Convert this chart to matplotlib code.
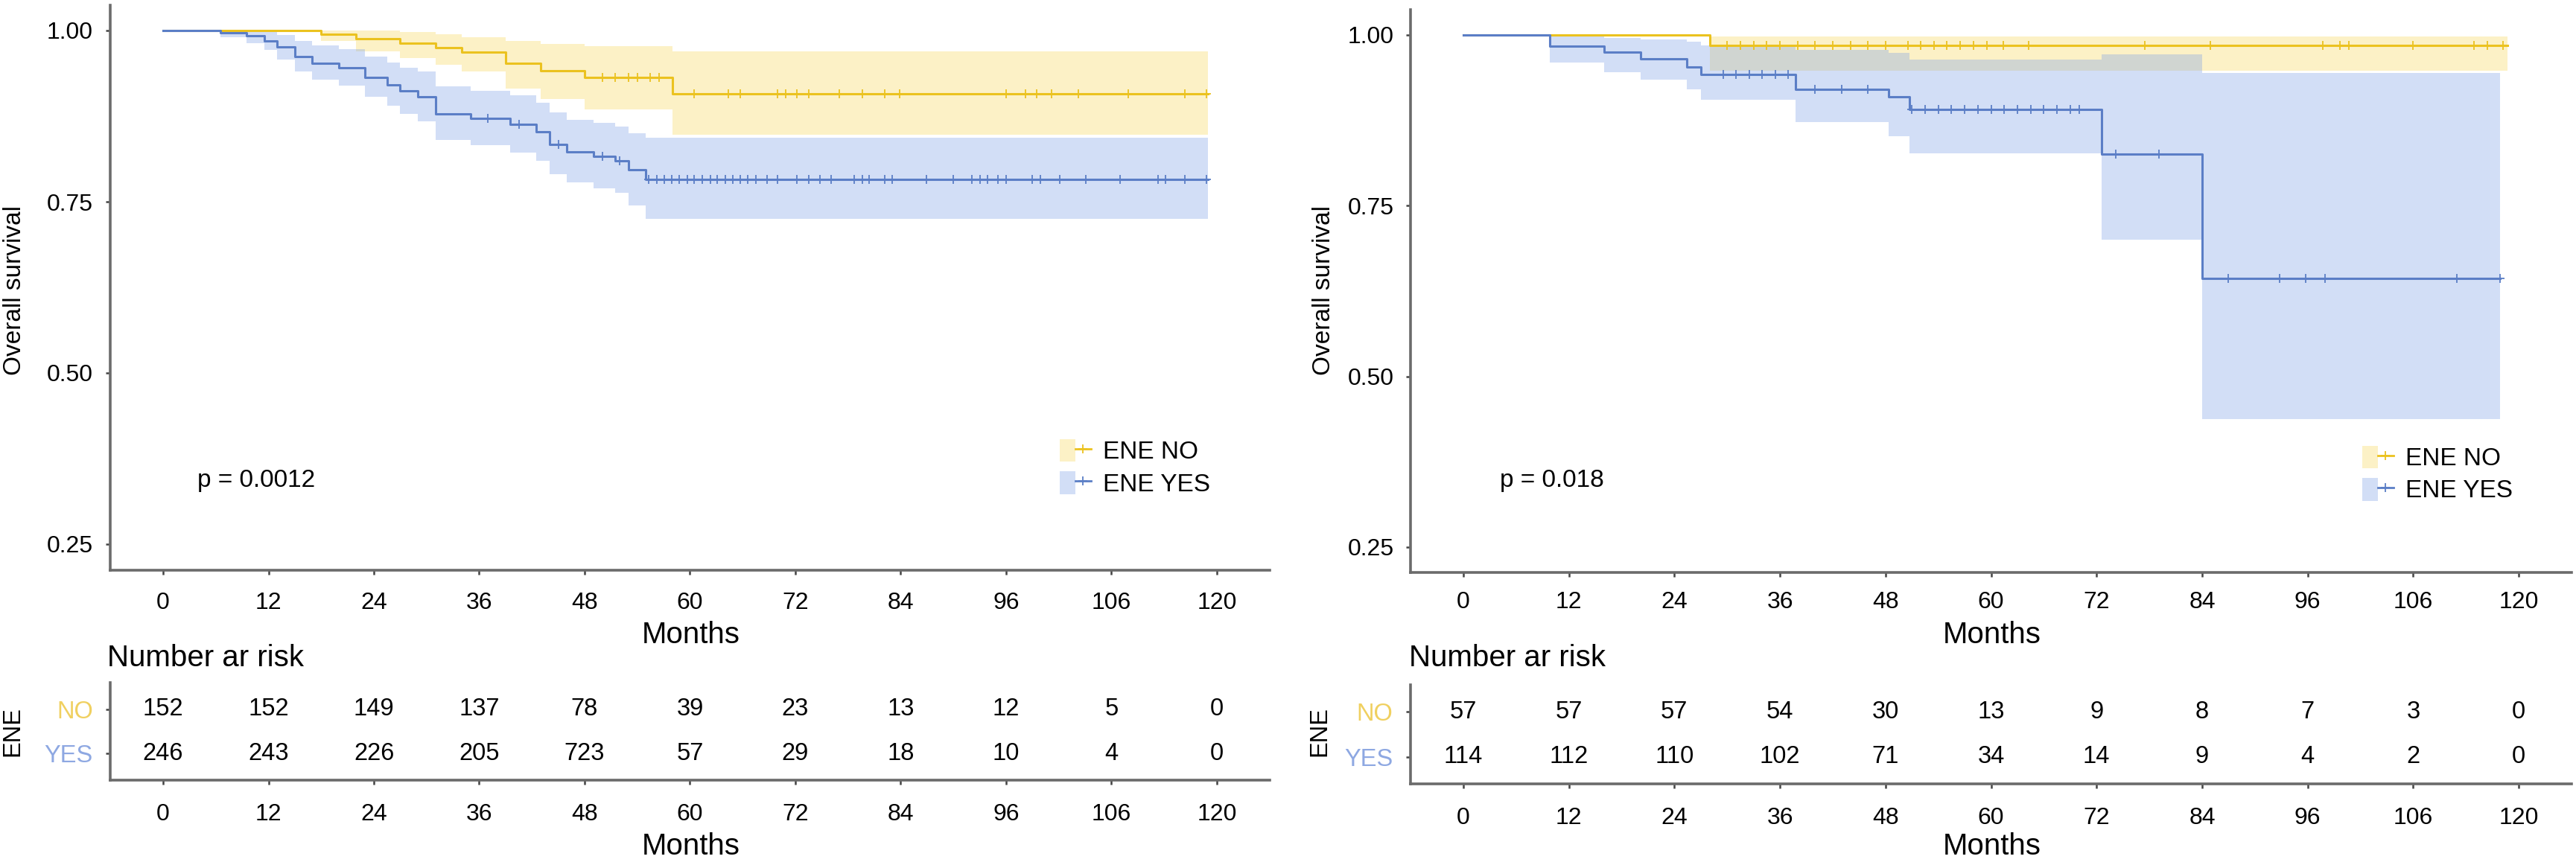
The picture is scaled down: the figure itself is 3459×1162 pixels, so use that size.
import numpy as np
import matplotlib
matplotlib.use("Agg")
import matplotlib.pyplot as plt
from matplotlib.patches import Patch
from matplotlib.lines import Line2D
from matplotlib.legend_handler import HandlerTuple

plt.rcParams['font.family'] = ['Liberation Sans', 'DejaVu Sans']

# ---- data ----
x_ticks = [0, 12, 24, 36, 48, 60, 72, 84, 96, 108, 120]
x_tick_labels = ['0', '12', '24', '36', '48', '60', '72', '84', '96', '106', '120']
y_ticks = [0.25, 0.50, 0.75, 1.00]
groups = ['NO', 'YES']
legend_labels = ['ENE NO', 'ENE YES']

# left panel
left_no_time = [0, 18, 22, 27, 31, 34, 39, 43, 48, 58]
left_no_surv = [1.0, 0.995, 0.988, 0.982, 0.975, 0.968, 0.952, 0.941, 0.932, 0.908]
left_no_upper = [1.0, 1.0, 1.0, 0.998, 0.995, 0.99, 0.985, 0.98, 0.977, 0.97]
left_no_lower = [1.0, 0.985, 0.97, 0.96, 0.95, 0.94, 0.915, 0.90, 0.885, 0.848]
left_no_end = 119
left_no_censor = [50, 51.5, 53, 54, 55.5, 56.5, 60.5, 64.4, 65.7, 70.0, 70.9, 72.2, 73.5,
                  77.0, 79.6, 82.2, 83.9, 96.0, 98.2, 99.5, 101.2, 104.2, 109.9, 116.4, 118.8]

left_yes_time = [0, 6.5, 9.5, 11.5, 13, 15, 17, 20, 23, 25.5, 27, 29, 31, 35, 39.5, 42.5,
                 44, 46, 49, 51.5, 53, 55]
left_yes_surv = [1.0, 0.997, 0.992, 0.985, 0.976, 0.962, 0.952, 0.946, 0.932, 0.921, 0.912,
                 0.903, 0.878, 0.872, 0.863, 0.852, 0.834, 0.823, 0.816, 0.81, 0.797, 0.783]
left_yes_upper = [1.0, 1.0, 1.0, 0.998, 0.993, 0.985, 0.978, 0.973, 0.962, 0.953, 0.946,
                  0.94, 0.918, 0.912, 0.905, 0.895, 0.88, 0.87, 0.865, 0.86, 0.85, 0.843]
left_yes_lower = [1.0, 0.99, 0.982, 0.972, 0.958, 0.94, 0.928, 0.92, 0.903, 0.89, 0.878,
                  0.867, 0.84, 0.833, 0.822, 0.81, 0.79, 0.778, 0.77, 0.763, 0.745, 0.725]
left_yes_end = 119
left_yes_censor = [37, 40.5, 45, 50, 52, 55.3, 56.2, 57.1, 57.9, 58.8, 59.7, 60.5, 61.4, 62.3,
                   63.1, 64.0, 64.9, 65.7, 66.6, 67.5, 68.8, 70.0, 72.2, 73.5, 74.8, 76.1,
                   78.7, 79.6, 80.4, 82.2, 83.0, 86.9, 90.0, 92.1, 93.0, 93.9, 95.1, 96.0,
                   99.0, 99.9, 102.1, 105.1, 109.0, 113.3, 114.2, 116.4, 118.8]
left_risk_no = [152, 152, 149, 137, 78, 39, 23, 13, 12, 5, 0]
left_risk_yes = [246, 243, 226, 205, 723, 57, 29, 18, 10, 4, 0]
left_p = 'p = 0.0012'

# right panel
right_no_time = [0, 28]
right_no_surv = [1.0, 0.985]
right_no_upper = [1.0, 0.998]
right_no_lower = [1.0, 0.948]
right_no_end = 118.7
right_no_censor = [30, 31.5, 33, 34.5, 36, 38, 40, 42, 44, 46, 48, 50.6, 52, 53.5, 55, 56.5,
                   58, 59.5, 61.4, 64.3, 77.5, 84.9, 97.7, 99.7, 100.7, 108, 114.9, 116.4, 118.2]

right_yes_time = [0, 9.8, 16, 20.2, 25.4, 27, 37.8, 48.4, 50.7, 72.6, 84]
right_yes_surv = [1.0, 0.984, 0.975, 0.965, 0.953, 0.942, 0.92, 0.909, 0.891, 0.826, 0.644]
right_yes_upper = [1.0, 0.998, 0.996, 0.993, 0.99, 0.985, 0.978, 0.974, 0.964, 0.972, 0.944]
right_yes_lower = [1.0, 0.96, 0.945, 0.935, 0.92, 0.905, 0.873, 0.852, 0.827, 0.70, 0.438]
right_yes_end = 117.9
right_yes_censor = [29.6, 31, 32.5, 34, 35.5, 36.9, 40, 43, 46, 51, 52.5, 54, 55.5, 57, 58.5,
                    60, 61.5, 63, 64.5, 66, 67.5, 69, 70, 74.2, 79.1, 87, 92.8, 95.8, 98,
                    113, 117.9]
right_risk_no = [57, 57, 57, 54, 30, 13, 9, 8, 7, 3, 0]
right_risk_yes = [114, 112, 110, 102, 71, 34, 14, 9, 4, 2, 0]
right_p = 'p = 0.018'

# ---- style ----
NO_LINE = '#EBC21F'
NO_FILL = '#F7D95C'
YES_LINE = '#5B7EC6'
YES_FILL = '#7FA3E6'
NO_LABEL = '#F0D060'
YES_LABEL = '#8EA8E2'
AXIS_COL = '#6b6b6b'
TICK_FS = 23
BIG_FS = 29

W, H = 3459, 1162
fig = plt.figure(figsize=(W / 100, H / 100), dpi=100)


def box(x0, y0, x1, y1):
    return [x0 / W, 1 - y1 / H, (x1 - x0) / W, (y1 - y0) / H]


def ftext(x, y, s, **kw):
    fig.text(x / W, 1 - y / H, s, **kw)


def style_axes(ax):
    for side in ['top', 'right']:
        ax.spines[side].set_visible(False)
    for side in ['left', 'bottom']:
        ax.spines[side].set_color(AXIS_COL)
        ax.spines[side].set_linewidth(2.6)
    ax.tick_params(length=4, width=1.8, color='#444444', labelsize=TICK_FS)
    ax.set_xlim(-6, 126)
    ax.set_xticks(x_ticks)
    ax.set_xticklabels(x_tick_labels)


def km(ax, t, s, lo, hi, end, cens, line_col, fill_col):
    tt = np.append(t, end)
    ss = np.append(s, s[-1])
    ll = np.append(lo, lo[-1])
    uu = np.append(hi, hi[-1])
    ax.fill_between(tt, ll, uu, step='post', color=fill_col, alpha=0.35, linewidth=0)
    ax.step(tt, ss, where='post', color=line_col, lw=2.2)
    idx = np.searchsorted(t, cens, side='right') - 1
    ax.plot(cens, np.asarray(s)[idx], linestyle='none', marker='+', ms=9, mew=1.3,
            color=line_col)


def panel(main_box, table_box, no, yes, risk_no, risk_yes, ptxt, p_xy,
          leg_xy, ylab_x, ytick_pad, xtick_pad, ene_x, table_title_x):
    ax = fig.add_axes(box(*main_box))
    style_axes(ax)
    km(ax, *no, NO_LINE, NO_FILL)
    km(ax, *yes, YES_LINE, YES_FILL)
    ax.set_ylim(0.2125, 1.0375)
    ax.set_yticks(y_ticks)
    ax.set_yticklabels(['%.2f' % v for v in y_ticks])
    ax.tick_params(axis='y', pad=ytick_pad)
    ax.tick_params(axis='x', pad=xtick_pad)
    ftext(p_xy[0], p_xy[1], ptxt, fontsize=24, va='center', ha='left')
    ftext(ylab_x, 390, 'Overall survival', fontsize=24, rotation=90, va='center', ha='center')
    mid = (main_box[0] + main_box[2]) / 2 + 1
    ftext(mid, 853, 'Months', fontsize=BIG_FS, va='center', ha='center')

    handles = []
    for lc, fc in [(NO_LINE, NO_FILL), (YES_LINE, YES_FILL)]:
        handles.append((Patch(facecolor=fc, alpha=0.35, edgecolor='none'),
                        Line2D([], [], color=lc, lw=2, marker='+', ms=9, mew=1.3)))
    fig.legend(handles, legend_labels, handler_map={tuple: HandlerTuple(ndivide=None)},
               loc='center left', bbox_to_anchor=(leg_xy[0] / W, 1 - leg_xy[1] / H),
               frameon=False, fontsize=24, handlelength=1.25, handleheight=1.05,
               handletextpad=0.5, labelspacing=0.28, borderpad=0, borderaxespad=0)

    # number at risk table
    tb = fig.add_axes(box(*table_box))
    style_axes(tb)
    tb.set_ylim(0.4, 2.6)
    tb.set_yticks([2, 1])
    tb.set_yticklabels(groups)
    tb.tick_params(axis='y', pad=13, labelsize=23.5)
    tb.tick_params(axis='x', pad=18)
    for lab, col in zip(tb.get_yticklabels(), [NO_LABEL, YES_LABEL]):
        lab.set_color(col)
    for xv, a, b in zip(x_ticks, risk_no, risk_yes):
        tb.text(xv, 2, str(a), fontsize=23.5, ha='center', va='center')
        tb.text(xv, 1, str(b), fontsize=23.5, ha='center', va='center')
    ftext(table_title_x, 884, 'Number ar risk', fontsize=BIG_FS, va='center', ha='left')
    ftext(ene_x, 983, 'ENE', fontsize=23.5, rotation=90, va='center', ha='center')
    ftext(mid, 1137, 'Months', fontsize=BIG_FS, va='center', ha='center')


panel((148.3, 6.5, 1704.6, 765.5), (148.3, 917, 1704.6, 1048),
      (left_no_time, left_no_surv, left_no_lower, left_no_upper, left_no_end, left_no_censor),
      (left_yes_time, left_yes_surv, left_yes_lower, left_yes_upper, left_yes_end, left_yes_censor),
      left_risk_no, left_risk_yes, left_p, (265, 645), (1423, 628), 20, 13, 17, 17, 144)

panel((1894, 12.6, 3453, 769.4), (1894, 920, 3453, 1053),
      (right_no_time, right_no_surv, right_no_lower, right_no_upper, right_no_end, right_no_censor),
      (right_yes_time, right_yes_surv, right_yes_lower, right_yes_upper, right_yes_end, right_yes_censor),
      right_risk_no, right_risk_yes, right_p, (2014, 645), (3172, 637), 1778, 12, 14, 1772, 1892)

fig.savefig('out.png', dpi=100, facecolor='white')
